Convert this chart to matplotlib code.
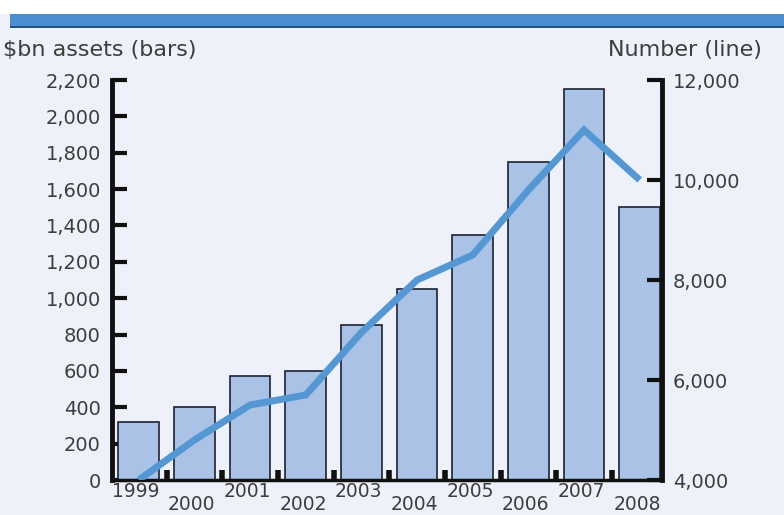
import matplotlib
matplotlib.use("Agg")
import matplotlib.pyplot as plt
from matplotlib.patches import Rectangle
from matplotlib.ticker import FuncFormatter

# Дані з графіка
years = ["1999", "2000", "2001", "2002", "2003", "2004", "2005", "2006", "2007", "2008"]
assets_bn = [320, 400, 570, 600, 850, 1050, 1350, 1750, 2150, 1500]        # стовпці, $bn
number_line = [4000, 4800, 5500, 5700, 6950, 8000, 8500, 9800, 11000, 10000]  # лінія, кількість

bg = "#eef1f9"
bar_fill = "#a9c2e6"
bar_edge = "#1c2233"
line_col = "#5597d3"
text_col = "#3d3d3d"

fig = plt.figure(figsize=(7.84, 5.15), dpi=100, facecolor=bg)
# біла смуга зверху і синя плашка
fig.patches.append(Rectangle((0, 1 - 14 / 515), 1, 14 / 515, transform=fig.transFigure,
                             facecolor="white", edgecolor="none"))
fig.patches.append(Rectangle((10 / 784, 1 - 27 / 515), 1, 13 / 515, transform=fig.transFigure,
                             facecolor="#4a8dd0", edgecolor="none"))
fig.patches.append(Rectangle((10 / 784, 1 - 27.5 / 515), 1, 1.5 / 515, transform=fig.transFigure,
                             facecolor="#28507a", edgecolor="none"))

ax = fig.add_axes([112 / 784, 35 / 515, 550 / 784, 400 / 515])
ax.set_facecolor(bg)
x = list(range(len(years)))

ax.bar(x, assets_bn, width=0.73, color=bar_fill, edgecolor=bar_edge, linewidth=1.2, zorder=2)
ax.set_xlim(-0.48, 9.4)
ax.set_ylim(0, 2200)
ax.set_yticks(range(0, 2201, 200))
ax.yaxis.set_major_formatter(FuncFormatter(lambda v, p: f"{int(v):,}"))

for s in ["top", "right"]:
    ax.spines[s].set_visible(False)
ax.spines["left"].set_linewidth(3.5)
ax.spines["bottom"].set_linewidth(2.5)
ax.spines["left"].set_color("#111111")
ax.spines["bottom"].set_color("#111111")
ax.tick_params(axis="y", direction="in", length=11, width=3, color="#111111",
               labelsize=14, labelcolor=text_col, pad=8)

# дрібні риски між стовпцями, підписи років окремо
ax.set_xticks([i + 0.5 for i in range(len(years) - 1)])
ax.set_xticklabels([])
ax.tick_params(axis="x", direction="in", length=7, width=4, color="#111111")
for i, yr in enumerate(years):
    off = -8.5 if i % 2 == 0 else -17.5
    ax.annotate(yr, xy=(i - 0.05, 0), xycoords=("data", "axes fraction"),
                xytext=(0, off), textcoords="offset points",
                ha="center", va="center", fontsize=13.5, color=text_col)

ax2 = ax.twinx()
ax2.plot(x, number_line, color=line_col, linewidth=5, solid_joinstyle="miter",
         solid_capstyle="butt", zorder=3)
ax2.set_ylim(4000, 12000)
ax2.set_yticks(range(4000, 12001, 2000))
ax2.yaxis.set_major_formatter(FuncFormatter(lambda v, p: f"{int(v):,}"))
for s in ["top", "left", "bottom"]:
    ax2.spines[s].set_visible(False)
ax2.spines["right"].set_linewidth(3.5)
ax2.spines["right"].set_color("#111111")
ax2.tick_params(axis="y", direction="in", length=11, width=3, color="#111111",
                labelsize=14, labelcolor=text_col, pad=8)

fig.text(3 / 784, 1 - 50 / 515, "$bn assets (bars)", fontsize=16, color=text_col,
         ha="left", va="center")
fig.text(762 / 784, 1 - 50 / 515, "Number (line)", fontsize=16, color=text_col,
         ha="right", va="center")

fig.savefig("out.png", dpi=100, facecolor=bg)
